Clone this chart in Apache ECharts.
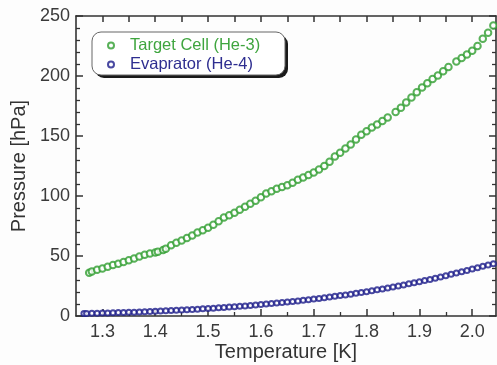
<!DOCTYPE html>
<html><head><meta charset="utf-8">
<script src="https://cdn.jsdelivr.net/npm/echarts@6/dist/echarts.min.js"></script>
<style>html,body{margin:0;padding:0;background:#fdfdfd}#c{width:497px;height:365px}</style>
</head><body><div id="c"></div>
<script>
// ---- data ----
const seriesNames = ['Target Cell (He-3)', 'Evaprator (He-4)'];
const xTickFirst = 1.3, xTickLast = 2.0, xTickStep = 0.1;   // tick labels 1.3 ... 2.0
const yTickLabels = [0, 50, 100, 150, 200, 250];

const he3Temp = [1.275,1.28,1.29,1.30,1.31,1.32,1.33,1.34,1.35,1.36,1.37,1.38,1.39,1.40,1.405,1.415,
  1.42,1.43,1.44,1.45,1.46,1.47,1.48,1.49,1.50,1.51,1.52,1.53,1.54,1.55,1.56,1.57,1.58,1.59,1.60,
  1.61,1.62,1.63,1.64,1.65,1.66,1.67,1.68,1.69,1.70,1.71,1.72,1.73,1.74,1.75,1.76,1.77,1.78,1.79,1.80,
  1.81,1.82,1.83,1.84,1.855,1.865,1.875,1.885,1.895,1.905,1.915,1.925,1.935,1.945,1.955,
  1.97,1.98,1.99,2.00,2.01,2.02,2.03,2.04];
const he3Pressure = [36,37,38.5,39.5,41,42.5,43.5,45,46.5,48,49.5,51,52,53,53.5,55,
  56,59,61,63,65,67,69.5,71.5,73.5,76,79,82,84,86,88.5,91,93.5,96,99,
  102,104,106,107.5,109,111,113.5,115.5,117.5,119.5,122,125,128.5,133,136,139.5,143,147,151,154,
  157,159.5,162.5,165.5,170,173.5,178,182,186.5,190.5,194,197.5,200.5,204,207.5,
  212,215,218,221,225,231,236,242];

const he4Temp = [1.265,1.27,1.28,1.29,1.30,1.31,1.32,1.33,1.34,1.35,1.36,1.37,1.38,1.39,1.40,
  1.41,1.42,1.43,1.44,1.45,1.46,1.47,1.48,1.49,1.50,1.51,1.52,1.53,1.54,1.55,1.56,1.57,1.58,1.59,1.60,
  1.61,1.62,1.63,1.64,1.65,1.66,1.67,1.68,1.69,1.70,1.71,1.72,1.73,1.74,1.75,1.76,1.77,1.78,1.79,1.80,
  1.81,1.82,1.83,1.84,1.85,1.86,1.87,1.88,1.89,1.90,1.91,1.92,1.93,1.94,1.95,1.96,1.97,1.98,1.99,2.00,
  2.01,2.02,2.03,2.04];
const he4Pressure = [2.0,2.0,2.2,2.3,2.5,2.6,2.8,2.9,3.0,3.1,3.2,3.4,3.5,3.7,3.9,
  4.1,4.3,4.5,4.8,5.0,5.2,5.5,5.7,6.0,6.2,6.5,6.8,7.1,7.4,7.7,8.1,8.4,8.8,9.2,9.6,
  10.0,10.4,10.8,11.2,11.7,12.1,12.6,13.1,13.6,14.1,14.6,15.2,15.8,16.4,17.0,17.6,18.2,18.9,19.6,20.3,
  21.0,21.8,22.5,23.3,24.1,25.0,25.9,26.8,27.7,28.6,29.5,30.5,31.5,32.5,33.6,34.7,35.8,36.9,38.0,39.2,
  40.3,41.5,42.5,43.5];

// ---- chart ----
const FONT = 'Liberation Sans, Arial, sans-serif';
const AX = '#333333';
const green = '#2f9e2f', blue = '#1c1c8a';
const zip = (a, b) => a.map((v, i) => [v, b[i]]);
const xMin = 1.25, xMax = 2.045;
const W = 497, G = {left: 76, right: 1, top: 16, bottom: 49};
// second grid covering exactly the tick range, aligned with the main grid's scale
const pxPerK = (W - G.left - G.right) / (xMax - xMin);
const g2Left = G.left + (xTickFirst - xMin) * pxPerK;
const g2Right = G.right + (xMax - xTickLast) * pxPerK;

const lineSt = {color: AX, width: 1.6};
const tickSt = {color: AX, width: 1.5};
const minorSt = {color: AX, width: 1.3};

const chart = echarts.init(document.getElementById('c'), null, {renderer: 'canvas'});
chart.setOption({
  animation: false,
  backgroundColor: '#fdfdfd',
  textStyle: {fontFamily: FONT},
  grid: [
    Object.assign({containLabel: false, outerBoundsMode: 'none'}, G),
    {left: g2Left, right: g2Right, top: G.top, bottom: G.bottom, containLabel: false, outerBoundsMode: 'none'}
  ],
  graphic: [
    {type: 'rect', z: 10, silent: true, shape: {x: 95, y: 35, width: 193, height: 43, r: 9}, style: {fill: '#1a1a1a'}},
    {type: 'rect', z: 11, silent: true, shape: {x: 92, y: 32, width: 193, height: 43, r: 9}, style: {fill: '#ffffff', stroke: '#666', lineWidth: 1}}
  ],
  legend: {
    z: 20,
    orient: 'vertical', left: 92, top: 32,
    padding: [5, 20, 4, 15], itemGap: 2,
    itemWidth: 6, itemHeight: 6,
    textStyle: {fontSize: 16.5, fontFamily: FONT, padding: [0, 0, 0, 11]},
    data: [
      {name: seriesNames[0], icon: 'emptyCircle', textStyle: {color: '#3fa53f'}},
      {name: seriesNames[1], icon: 'emptyCircle', textStyle: {color: '#2e2e90'}}
    ]
  },
  xAxis: [
    {gridIndex: 0, type: 'value', min: xMin, max: xMax, position: 'bottom',
      splitLine: {show: false}, axisLine: {show: true, onZero: false, lineStyle: lineSt},
      axisTick: {show: false}, axisLabel: {show: false},
      name: 'Temperature [K]', nameLocation: 'middle', nameGap: 26,
      nameTextStyle: {fontSize: 20, color: '#333', fontFamily: FONT}},
    {gridIndex: 0, type: 'value', min: xMin, max: xMax, position: 'top',
      splitLine: {show: false}, axisLine: {show: true, onZero: false, lineStyle: lineSt},
      axisTick: {show: false}, axisLabel: {show: false}},
    {gridIndex: 1, type: 'value', min: xTickFirst, max: xTickLast, interval: xTickStep, position: 'bottom',
      splitLine: {show: false}, axisLine: {show: false, onZero: false},
      axisTick: {show: true, inside: true, length: 7, lineStyle: tickSt},
      minorTick: {show: true, splitNumber: 2, length: 4, lineStyle: minorSt},
      axisLabel: {show: true, fontSize: 18, color: '#3a3a3a', margin: 7, fontFamily: FONT,
        formatter: v => v.toFixed(1)}},
    {gridIndex: 1, type: 'value', min: xTickFirst, max: xTickLast, interval: xTickStep / 2, position: 'top',
      splitLine: {show: false}, axisLine: {show: false, onZero: false},
      axisTick: {show: true, inside: true, length: 6, lineStyle: tickSt},
      axisLabel: {show: false}}
  ],
  yAxis: [
    {gridIndex: 0, type: 'value', min: yTickLabels[0], max: yTickLabels[yTickLabels.length - 1], interval: yTickLabels[1] - yTickLabels[0],
      position: 'left', splitLine: {show: false}, axisLine: {show: true, onZero: false, lineStyle: lineSt},
      axisTick: {show: true, inside: true, length: 7, lineStyle: tickSt},
      minorTick: {show: true, splitNumber: 5, length: 4, lineStyle: minorSt},
      axisLabel: {show: true, fontSize: 18, color: '#3a3a3a', margin: 6, fontFamily: FONT},
      name: 'Pressure [hPa]', nameLocation: 'middle', nameGap: 40,
      nameTextStyle: {fontSize: 20, color: '#333', fontFamily: FONT}},
    {gridIndex: 0, type: 'value', min: yTickLabels[0], max: yTickLabels[yTickLabels.length - 1], interval: yTickLabels[1] - yTickLabels[0],
      position: 'right', splitLine: {show: false}, axisLine: {show: true, onZero: false, lineStyle: lineSt},
      axisTick: {show: true, inside: true, length: 7, lineStyle: tickSt},
      minorTick: {show: true, splitNumber: 5, length: 4, lineStyle: minorSt},
      axisLabel: {show: false}},
    {gridIndex: 1, type: 'value', min: 0, max: 250, show: false}
  ],
  series: [
    {
      name: seriesNames[0], type: 'scatter', xAxisIndex: 0, yAxisIndex: 0,
      data: zip(he3Temp, he3Pressure),
      symbol: 'emptyCircle', symbolSize: 6.5,
      itemStyle: {color: green, borderColor: green, borderWidth: 1.6}
    },
    {
      name: seriesNames[1], type: 'scatter', xAxisIndex: 0, yAxisIndex: 0,
      data: zip(he4Temp, he4Pressure),
      symbol: 'emptyCircle', symbolSize: 5,
      itemStyle: {color: blue, borderColor: blue, borderWidth: 1.8}
    }
  ]
});
</script></body></html>
